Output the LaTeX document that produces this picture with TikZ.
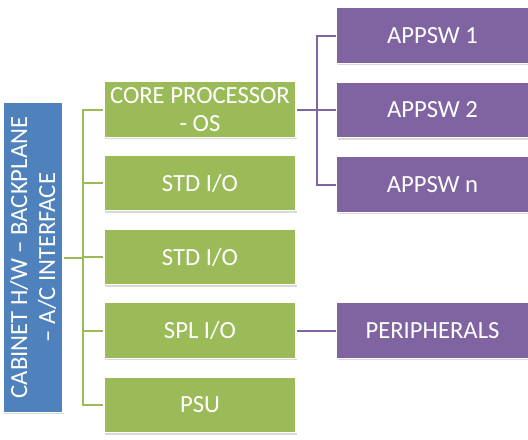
\documentclass[tikz,border=0pt]{standalone}
\usepackage{fontspec}
\setmainfont{Carlito}
\usetikzlibrary{shadows}

\definecolor{hwblue}{RGB}{79,129,189}
\definecolor{modgreen}{RGB}{155,187,89}
\definecolor{swpurple}{RGB}{128,100,162}

\tikzset{
  blk/.style={draw=white, line width=0.8pt, text=white, align=center,
    font=\fontsize{18.5}{21}\selectfont, inner sep=1pt,
    drop shadow={opacity=0.3, shadow xshift=1pt, shadow yshift=-1.5pt}},
  modbox/.style={blk, fill=modgreen, minimum width=144pt, minimum height=41.5pt},
  swbox/.style={blk, fill=swpurple, minimum width=143.5pt, minimum height=41.5pt},
  glink/.style={draw=modgreen, line width=1.5pt},
  plink/.style={draw=swpurple, line width=1.5pt},
}

\begin{document}
\begin{tikzpicture}[x=0.75pt,y=0.75pt,yscale=-1,xscale=1]
\useasboundingbox (0,0) rectangle (528,439);

%cabinet
\node [blk, fill=hwblue, rotate=90, minimum width=232pt, minimum height=45pt] (hw) at (33,257.5) {CABINET H/W -- BACKPLANE\\ -- A/C INTERFACE};

%modules
\node [modbox] (core) at (200,109.5) {CORE PROCESSOR\\ - OS};
\node [modbox] (stdA) at (200,183) {STD I/O};
\node [modbox] (stdB) at (200,257) {STD I/O};
\node [modbox] (spl) at (200,330.5) {SPL I/O};
\node [modbox] (psu) at (200,405) {PSU};

%application software
\node [swbox] (app1) at (432.5,35.5) {APPSW 1};
\node [swbox] (app2) at (432.5,110) {APPSW 2};
\node [swbox] (appn) at (432.5,184.5) {APPSW n};
\node [swbox] (peri) at (432.5,330.5) {PERIPHERALS};

%green bus
\coordinate (gbus) at (83,257.5);
\draw [glink] (hw.south) -- (gbus);
\foreach \m in {core,stdA,stdB,spl,psu}
  \draw [glink] (gbus) |- (\m.west);

%purple bus
\coordinate (pbus) at (317,109.5);
\draw [plink] (core.east) -- (pbus);
\foreach \m in {app1,app2,appn}
  \draw [plink] (pbus) |- (\m.west);
\draw [plink] (spl.east) -- (peri.west);

\end{tikzpicture}
\end{document}
